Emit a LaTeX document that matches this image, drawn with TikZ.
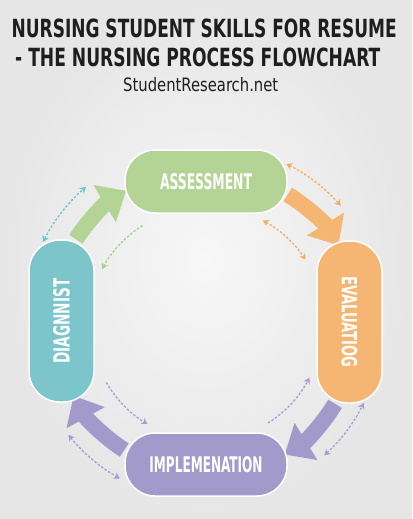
\documentclass[tikz,border=0pt]{standalone}
\usepackage{fontspec}
\setmainfont{Liberation Sans}
\newfontfamily\tfont{DejaVu Sans Condensed}
\usepackage{graphicx}
\usetikzlibrary{arrows.meta}
\definecolor{cG}{HTML}{B4D496}
\definecolor{cT}{HTML}{7BC5CB}
\definecolor{cO}{HTML}{F6B673}
\definecolor{cP}{HTML}{A39ACC}
\definecolor{dG}{HTML}{A2D188}
\definecolor{dT}{HTML}{6EC2C9}
\definecolor{dO}{HTML}{F3AD66}
\definecolor{dP}{HTML}{A69CD2}
\definecolor{bgin}{HTML}{F7F7F7}
\definecolor{bgout}{HTML}{E6E6E6}
\definecolor{ink}{HTML}{1E1E1E}
\begin{document}
\begin{tikzpicture}[x=1pt,y=1pt,
  hpill/.style={minimum width=162pt, minimum height=63pt, rounded corners=30pt, inner sep=0pt, draw=white, line width=1.5pt, text=white},
  vpill/.style={minimum width=65pt, minimum height=162pt, rounded corners=31pt, inner sep=0pt, draw=white, line width=1.5pt, text=white},
  big/.style={line width=16pt, arrows={-Triangle[length=25pt,width=42pt]}},
  dots/.style={line width=1.3pt, dash pattern=on 2.4pt off 1.8pt},
  dd/.style={dots, arrows={Stealth[length=6pt,width=7pt]-Stealth[length=6pt,width=7pt]}},
  ds/.style={dots, arrows={-Stealth[length=6pt,width=7pt]}},
  title/.style={anchor=north west, inner sep=0pt, text=ink}
]
\useasboundingbox (0,0) rectangle (412,-519);
\shade[inner color=bgin, outer color=bgout] (0,0) rectangle (412,-519);

\coordinate (C) at (206,-325);

% titles
\node[title] (t1) at (11.5,-18.3) {\resizebox{385pt}{18.6pt}{\tfont\bfseries NURSING STUDENT SKILLS FOR RESUME}};
\node[title] (t2) at (15,-47.6) {\resizebox{365pt}{18.6pt}{\tfont\bfseries - THE NURSING PROCESS FLOWCHART}};
\node[title] (t3) at (123,-77) {\resizebox{155pt}{14pt}{\tfont StudentResearch.net}};

% nodes (positions only, for anchors)
\path (206,-181.5) node[hpill, draw=none] (assess) {}
      (61.5,-321) node[vpill, draw=none] (diag) {}
      (349.5,-322) node[vpill, draw=none] (eval) {}
      (206,-464.5) node[hpill, draw=none] (impl) {};

% big arrows
\draw[big, cG] (diag.80) arc[start angle=147, end angle=121, radius=155];
\draw[big, cO] (assess.-9) arc[start angle=58.3, end angle=31.5, radius=155];
\draw[big, cP] (eval.-100) arc[start angle=-31.1, end angle=-58.5, radius=151];
\draw[big, cP] (impl.170) arc[start angle=-122.9, end angle=-151, radius=153];

% dotted arrows
\draw[dd, dT] ([shift={(153:183)}]C) arc[start angle=153, end angle=131, radius=183];
\draw[ds, dG] ([shift={(122.6:118)}]C) arc[start angle=122.6, end angle=151.7, radius=118];
\draw[dd, dO] ([shift={(63.5:180)}]C) arc[start angle=63.5, end angle=41.5, radius=180];
\draw[dd, dO] ([shift={(61.5:119)}]C) arc[start angle=61.5, end angle=33.3, radius=119];
\draw[ds, dP] ([shift={(-150:115)}]C) arc[start angle=-150, end angle=-120.6, radius=115];
\draw[dd, dP] ([shift={(-141.4:176)}]C) arc[start angle=-141.4, end angle=-119.3, radius=176];
\draw[ds, dP] ([shift={(-57.7:116)}]C) arc[start angle=-57.7, end angle=-27, radius=116];
\draw[dd, dP] ([shift={(-47.8:176)}]C) arc[start angle=-47.8, end angle=-26.3, radius=176];

% visible nodes
\node[hpill, fill=cG] (assessV) at (assess) {\resizebox{92pt}{16pt}{\tfont\bfseries ASSESSMENT}};
\node[vpill, fill=cT] (diagV) at (diag) {\rotatebox{90}{\resizebox{85pt}{16.5pt}{\tfont\bfseries DIAGNNIST}}};
\node[vpill, fill=cO] (evalV) at (eval) {\rotatebox{-90}{\resizebox{91pt}{15.5pt}{\tfont\bfseries EVALUATIOG}}};
\node[hpill, fill=cP] (implV) at (impl) {\resizebox{113pt}{16pt}{\tfont\bfseries IMPLEMENATION}};
\end{tikzpicture}
\end{document}
